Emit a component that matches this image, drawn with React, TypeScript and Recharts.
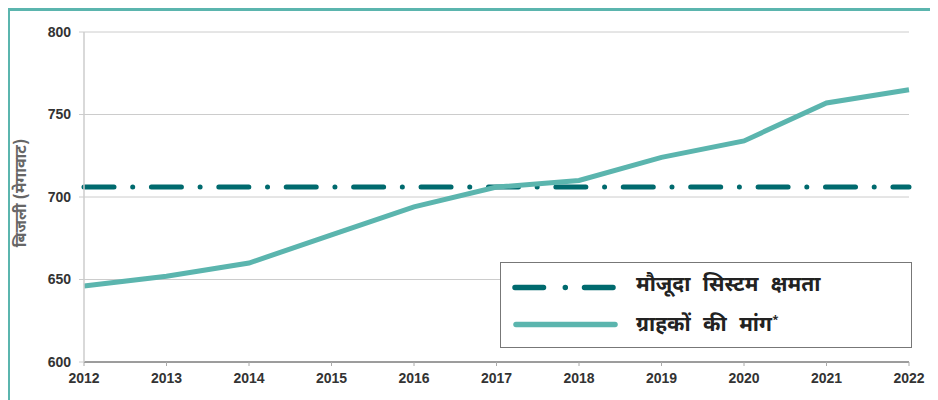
import { CartesianGrid, Line, LineChart, XAxis, YAxis } from "recharts"

// वर्ष और मान (चित्र से पढ़े गए)
const years = ["2012", "2013", "2014", "2015", "2016", "2017", "2018", "2019", "2020", "2021", "2022"]
const demand = [646, 652, 660, 677, 694, 706, 710, 724, 734, 757, 765]
const capacity = [706, 706, 706, 706, 706, 706, 706, 706, 706, 706, 706]
const yTicks = [600, 650, 700, 750, 800]

const capacityLabel = "मौजूदा सिस्टम क्षमता"
const demandLabel = "ग्राहकों की मांग"
const yAxisLabel = "बिजली (मेगावाट)"

const DEMAND_COLOR = "#5bb5ae"
const CAPACITY_COLOR = "#006a6e"
const FONT = "'Helvetica Neue', Arial, 'Liberation Sans', sans-serif"
const HINDI_FONT = "'Noto Sans Devanagari', 'Noto Sans', 'DejaVu Sans', sans-serif"

const data = years.map((year, i) => ({
  year,
  demand: demand[i],
  capacity: capacity[i],
}))

const tickStyle = { fontSize: 14, fontWeight: 700, fill: "#333", fontFamily: FONT }

const legendText = {
  position: "absolute" as const,
  left: 135,
  fontFamily: HINDI_FONT,
  fontSize: 21,
  fontWeight: 700,
  color: "#222",
  lineHeight: "28px",
  wordSpacing: 7,
  whiteSpace: "nowrap" as const,
}

export default function App() {
  return (
    <div
      style={{
        position: "relative",
        width: 926,
        height: 392,
        boxSizing: "border-box",
        borderTop: `3px solid ${DEMAND_COLOR}`,
        borderLeft: `2px solid ${DEMAND_COLOR}`,
        borderRight: `2px solid ${DEMAND_COLOR}`,
        background: "#fff",
      }}
    >
      <LineChart width={922} height={389} data={data} margin={{ top: 21, right: 23, left: 0, bottom: 8 }}>
        <CartesianGrid vertical={false} stroke="#cccccc" />
        <XAxis
          dataKey="year"
          interval={0}
          height={30}
          tickSize={4}
          tickMargin={7}
          axisLine={{ stroke: "#555", strokeWidth: 1.2 }}
          tickLine={{ stroke: "#aaa" }}
          tick={tickStyle}
        />
        <YAxis
          width={74}
          domain={[600, 800]}
          ticks={yTicks}
          interval={0}
          tickSize={5}
          tickMargin={8}
          axisLine={{ stroke: "#cccccc", strokeWidth: 1.5 }}
          tickLine={{ stroke: "#cccccc" }}
          tick={tickStyle}
          label={{
            content: () => (
              <text
                x={12}
                y={182}
                transform="rotate(-90 12 182)"
                textAnchor="middle"
                dominantBaseline="central"
                fill="#666"
                fontSize={16}
                fontWeight={700}
                fontFamily={HINDI_FONT}
              >
                {yAxisLabel}
              </text>
            ),
          }}
        />
        <Line
          dataKey="capacity"
          type="linear"
          stroke={CAPACITY_COLOR}
          strokeWidth={5}
          strokeLinecap="round"
          strokeDasharray="30 18.7 0.01 18.7"
          dot={false}
          activeDot={false}
          isAnimationActive={false}
        />
        <Line
          dataKey="demand"
          type="linear"
          stroke={DEMAND_COLOR}
          strokeWidth={5}
          dot={false}
          activeDot={false}
          isAnimationActive={false}
        />
      </LineChart>

      {/* लेजेंड बॉक्स */}
      <div
        style={{
          position: "absolute",
          left: 490,
          top: 251,
          width: 412,
          height: 86,
          boxSizing: "border-box",
          border: "1.5px solid #777",
          background: "#fff",
        }}
      >
        <svg width={130} height={84} style={{ position: "absolute", left: 0, top: 0 }}>
          <line
            x1={14}
            y1={24.5}
            x2={114}
            y2={24.5}
            stroke={CAPACITY_COLOR}
            strokeWidth={5.5}
            strokeLinecap="round"
            strokeDasharray="28.5 21.8 0.01 19.2"
          />
          <line x1={15} y1={61.5} x2={114} y2={61.5} stroke={DEMAND_COLOR} strokeWidth={5.5} strokeLinecap="round" />
        </svg>
        <div style={{ ...legendText, top: 9 }}>{capacityLabel}</div>
        <div style={{ ...legendText, top: 43 }}>
          {demandLabel}
          <span style={{ fontSize: 11, verticalAlign: "super" }}>*</span>
        </div>
      </div>
    </div>
  )
}
